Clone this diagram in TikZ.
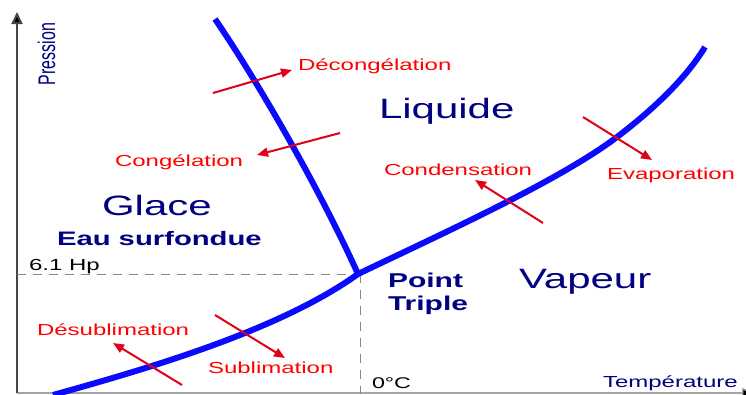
\documentclass[tikz,border=0pt]{standalone}
\usepackage{fontspec}
\setmainfont{Liberation Sans}
\usepackage{graphicx}
\usetikzlibrary{arrows.meta}
\definecolor{navy}{RGB}{0,0,128}
\definecolor{curveblue}{RGB}{10,10,255}
\definecolor{arrowred}{RGB}{225,0,25}
\definecolor{dashgrey}{RGB}{130,140,120}
\definecolor{axisgrey}{RGB}{165,165,165}
\definecolor{yaxisgrey}{RGB}{70,70,70}
\newcommand{\stretchx}[1]{\scalebox{1.5}[1]{#1}}
\tikzset{
  lab/.style={inner sep=0pt, outer sep=0pt, anchor=base west},
  phase/.style={lab, text=navy, font=\fontsize{28}{32}\selectfont},
  boldlab/.style={lab, text=navy, font=\fontsize{20}{23}\selectfont\bfseries},
  redlab/.style={lab, text=red, font=\fontsize{16}{19}\selectfont},
  blacklab/.style={lab, text=black, font=\fontsize{16}{19}\selectfont},
  curve/.style={draw=curveblue, line width=6pt, line join=round},
  change/.style={draw=arrowred, line width=2pt, -{Triangle[length=11pt,width=9pt]}},
  guide/.style={draw=dashgrey, line width=1pt, dash pattern=on 9pt off 7pt},
}
\begin{document}
\begin{tikzpicture}[x=1pt,y=-1pt]
\useasboundingbox (0,0) rectangle (746,394);
\fill[white] (0,0) rectangle (746,394);

% axes
\coordinate (O) at (17,393);
\coordinate (ytop) at (17,12);
\coordinate (xend) at (754,393);
\draw[axisgrey, line width=1.3pt, -{Triangle[length=12pt,width=10pt,fill=black]}] (O) -- (xend);
\draw[yaxisgrey, line width=2pt, -{Triangle[length=12pt,width=11pt,fill=black]}] (O) -- (ytop);

% triple point and guides
\coordinate (T) at (358,274);
\coordinate (Ty) at (17,274);
\coordinate (Tx) at (360,394);
\draw[guide] (Ty) -- (T);
\draw[guide] (T -| Tx) -- (Tx);

% phase boundaries
\coordinate (fusTop) at (215,19);
\coordinate (vapMid) at (617,137);
\coordinate (vapTop) at (705,47);
\coordinate (subBot) at (53,395);
\draw[curve] (fusTop) .. controls (260,85) and (320,190) .. (T);
\draw[curve] (T) .. controls (450,230) and (560,180) .. (vapMid)
                 .. controls (650,112) and (685,80) .. (vapTop);
\draw[curve] (subBot) .. controls (150,368) and (280,330) .. (T);

% phase change arrows
\coordinate (dec1) at (213,93);   \coordinate (dec2) at (292,70);
\coordinate (con1) at (340,133);  \coordinate (con2) at (257,155);
\coordinate (cnd1) at (543,223);  \coordinate (cnd2) at (475,180);
\coordinate (eva1) at (583,117);  \coordinate (eva2) at (652,160);
\coordinate (des1) at (182,385);  \coordinate (des2) at (113,343);
\coordinate (sub1) at (215,315);  \coordinate (sub2) at (285,358);
\draw[change] (dec1) -- (dec2);
\draw[change] (con1) -- (con2);
\draw[change] (cnd1) -- (cnd2);
\draw[change] (eva1) -- (eva2);
\draw[change] (des1) -- (des2);
\draw[change] (sub1) -- (sub2);

% labels
\node[redlab] (ldec) at (298,70) {\stretchx{Décongélation}};
\node[redlab] (lcon) at (115,166) {\stretchx{Congélation}};
\node[redlab] (lcnd) at (384,175) {\stretchx{Condensation}};
\node[redlab] (leva) at (607,179) {\stretchx{Evaporation}};
\node[redlab] (ldes) at (37,335) {\stretchx{Désublimation}};
\node[redlab] (lsub) at (208,373) {\stretchx{Sublimation}};

\node[phase] (glace) at (102,215) {\stretchx{Glace}};
\node[phase] (liq) at (379,118) {\stretchx{Liquide}};
\node[phase] (vap) at (519,288) {\stretchx{Vapeur}};
\node[boldlab, font=\fontsize{19.5}{22}\selectfont\bfseries] (eau) at (57,245) {\stretchx{Eau surfondue}};
\node[boldlab] (pt1) at (388,287) {\stretchx{Point}};
\node[boldlab] (pt2) at (388,310) {\stretchx{Triple}};

\node[blacklab] (hp) at (29,270) {\stretchx{6.1 Hp}};
\node[blacklab, font=\fontsize{15.5}{18}\selectfont] (zero) at (372,388) {\stretchx{0°C}};
\node[blacklab, text=navy] (temp) at (603,387) {\stretchx{Température}};
\node[lab, text=navy, font=\fontsize{16}{19}\selectfont, rotate=90] (pres) at (55,85) {\scalebox{1}[1.5]{Pression}};
\end{tikzpicture}
\end{document}
